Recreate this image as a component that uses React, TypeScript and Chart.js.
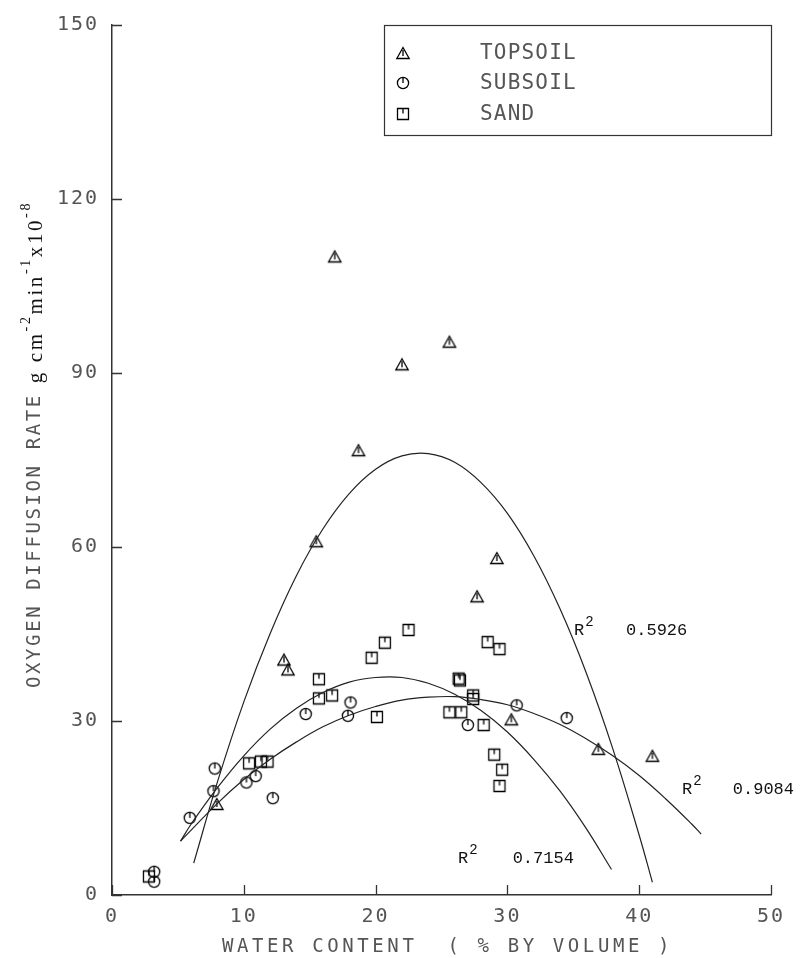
import React, { useEffect, useRef } from 'react';
import { Chart, registerables } from 'chart.js';

Chart.register(...registerables);

// ---- observed data (water content %, oxygen diffusion rate) ----
const topsoilX = [16.9, 25.6, 22.0, 18.7, 15.5, 29.2, 27.7, 13.05, 13.35, 30.3, 36.9, 41.0, 7.95];
const topsoilY = [110.1, 95.4, 91.5, 76.7, 61.0, 58.1, 51.5, 40.6, 38.9, 30.3, 25.2, 24.0, 15.7];

const subsoilX = [3.2, 3.2, 5.9, 7.8, 7.7, 10.2, 10.9, 12.2, 14.7, 17.9, 18.1, 27.0, 30.7, 34.5];
const subsoilY = [4.0, 2.3, 13.3, 21.8, 17.9, 19.4, 20.5, 16.7, 31.2, 30.9, 33.2, 29.3, 32.7, 30.5];

const sandX = [2.8, 10.4, 11.3, 11.8, 15.7, 15.7, 16.7, 19.7, 20.1, 20.7, 22.5, 25.6, 26.5, 26.3, 26.4, 27.4, 27.4, 28.2, 28.5, 29.4, 29.0, 29.6, 29.4];
const sandY = [3.2, 22.7, 23.0, 23.0, 37.2, 33.9, 34.4, 40.9, 30.7, 43.5, 45.7, 31.5, 31.5, 37.3, 37.0, 34.4, 33.8, 29.3, 43.6, 42.4, 24.2, 21.6, 18.8];

// ---- fitted curves ----
const topFitX = [6.2, 8, 10, 12, 14, 16, 18, 20, 22, 24, 26, 28, 30, 32, 34, 36, 38, 40, 41];
const topFitY = [5.5, 19.5, 33.3, 45.1, 55.1, 63.1, 69.2, 73.4, 75.7, 76.1, 74.6, 71.1, 65.8, 58.5, 49.3, 38.2, 25.2, 10.3, 2.2];

const subFitX = [5.2, 8, 10, 12, 14, 16, 18, 20, 22, 24, 26, 28, 30, 32, 34, 36, 38, 40, 42, 44, 44.7];
const subFitY = [9.3, 15.8, 19.9, 23.4, 26.4, 29.0, 31.0, 32.5, 33.6, 34.1, 34.2, 33.7, 32.8, 31.3, 29.4, 26.9, 24.0, 20.6, 16.6, 12.2, 10.5];

const sandFitX = [5.2, 6, 8, 10, 12, 14, 16, 18, 20, 22, 24, 26, 28, 30, 32, 34, 36, 37.9];
const sandFitY = [9.3, 12.2, 18.5, 24.0, 28.6, 32.2, 34.9, 36.7, 37.5, 37.5, 36.5, 34.6, 31.8, 28.1, 23.4, 17.9, 11.4, 4.4];

// ---- labels ----
const legendLabels = ['TOPSOIL', 'SUBSOIL', 'SAND'];
const r2Values = ['0.5926', '0.9084', '0.7154'];
const r2AnchorX = [35.05, 43.25, 26.25];
const r2AnchorY = [44.8, 17.4, 5.6];
const r2ValueX = [39.0, 47.1, 30.4];
const xTitle = 'WATER CONTENT  ( % BY VOLUME )';
const yTitleMain = 'OXYGEN DIFFUSION RATE';

const pts = (xs: number[], ys: number[]) => xs.map((x, i) => ({ x, y: ys[i] }));

function makeSymbol(kind: string): HTMLCanvasElement {
  const c = document.createElement('canvas');
  c.width = 16;
  c.height = 16;
  const g = c.getContext('2d')!;
  g.strokeStyle = '#000';
  g.lineWidth = 1.3;
  g.beginPath();
  if (kind === 'tri') {
    g.moveTo(8, 2.5);
    g.lineTo(1.8, 13.5);
    g.lineTo(14.2, 13.5);
    g.closePath();
    g.moveTo(8, 5);
    g.lineTo(8, 11);
  } else if (kind === 'circ') {
    g.arc(8, 8, 5.6, 0, Math.PI * 2);
    g.moveTo(8, 2.4);
    g.lineTo(8, 8);
  } else {
    g.rect(2.5, 2.5, 11, 11);
    g.moveTo(8, 2.5);
    g.lineTo(8, 7.5);
  }
  g.stroke();
  return c;
}

export default function App() {
  const ref = useRef<HTMLCanvasElement>(null);

  useEffect(() => {
    const canvas = ref.current!;
    const tri = makeSymbol('tri');
    const circ = makeSymbol('circ');
    const sq = makeSymbol('sq');
    const symbols = [tri, circ, sq];
    const plotFont = '"DejaVu Sans Mono", monospace';
    const textGray = '#555';

    const decor = {
      id: 'decor',
      beforeDraw(chart: any) {
        chart.ctx.letterSpacing = '2px';
      },
      beforeDatasetsDraw(chart: any) {
        chart.ctx.letterSpacing = '0px';
      },
      afterDraw(chart: any) {
        const ctx = chart.ctx as CanvasRenderingContext2D & { letterSpacing: string };
        const xs = chart.scales.x;
        const ys = chart.scales.y;
        const ca = chart.chartArea;
        ctx.save();
        // inward tick marks
        ctx.strokeStyle = '#333';
        ctx.lineWidth = 1.3;
        ctx.beginPath();
        xs.ticks.forEach((t: any) => {
          const px = Math.round(xs.getPixelForValue(t.value)) + 0.5;
          ctx.moveTo(px, ca.bottom);
          ctx.lineTo(px, ca.bottom - 10);
        });
        ys.ticks.forEach((t: any) => {
          const py = Math.round(ys.getPixelForValue(t.value)) + 0.5;
          ctx.moveTo(ca.left, py);
          ctx.lineTo(ca.left + 10, py);
        });
        ctx.stroke();

        // legend box
        const lx = ca.right - 387;
        const ly = ca.top;
        ctx.lineWidth = 1.2;
        ctx.strokeStyle = '#333';
        ctx.strokeRect(lx + 0.5, ly + 0.5, 387, 110);
        const rows = [28, 58, 89];
        ctx.font = '21px ' + plotFont;
        ctx.fillStyle = textGray;
        ctx.textBaseline = 'middle';
        ctx.textAlign = 'left';
        ctx.letterSpacing = '1.2px';
        legendLabels.forEach((lab, i) => {
          ctx.drawImage(symbols[i], lx + 19 - 8, ly + rows[i] - 8);
          ctx.fillText(lab, lx + 96, ly + rows[i] + 1);
        });

        // x title
        ctx.font = '19px ' + plotFont;
        ctx.letterSpacing = '3.6px';
        ctx.textAlign = 'center';
        ctx.textBaseline = 'alphabetic';
        ctx.fillText(xTitle, (ca.left + ca.right) / 2 + 6, 952);

        // y title (rotated)
        ctx.save();
        ctx.translate(40, 0);
        ctx.rotate(-Math.PI / 2);
        ctx.textAlign = 'left';
        ctx.font = '19px ' + plotFont;
        ctx.letterSpacing = '2.6px';
        ctx.fillStyle = textGray;
        let pos = -688;
        ctx.fillText(yTitleMain, pos, 0);
        pos += ctx.measureText(yTitleMain).width + 10;
        ctx.letterSpacing = '2.6px';
        ctx.fillStyle = '#111';
        const parts: [string, boolean][] = [
          ['g cm', false], ['-2', true], ['min', false], ['-1', true], ['x10', false], ['-8', true],
        ];
        parts.forEach(([s, sup]) => {
          ctx.font = sup ? '14px "Liberation Serif", serif' : '21px "Liberation Serif", serif';
          ctx.fillText(s, pos, sup ? -10 : 2);
          pos += ctx.measureText(s).width;
        });
        ctx.restore();

        // R^2 annotations
        ctx.letterSpacing = '0px';
        ctx.fillStyle = '#111';
        ctx.textAlign = 'left';
        ctx.textBaseline = 'alphabetic';
        r2Values.forEach((v, i) => {
          const ax = xs.getPixelForValue(r2AnchorX[i]);
          const ay = ys.getPixelForValue(r2AnchorY[i]);
          ctx.font = '17px "Liberation Mono", monospace';
          ctx.fillText('R', ax, ay);
          const rw = ctx.measureText('R').width;
          ctx.font = '14px "Liberation Mono", monospace';
          ctx.fillText('2', ax + rw + 1, ay - 9);
          ctx.font = '17px "Liberation Mono", monospace';
          ctx.fillText(v, xs.getPixelForValue(r2ValueX[i]), ay);
        });
        ctx.restore();
      },
    };

    const curve = (xsArr: number[], ysArr: number[], label: string) => ({
      label,
      data: pts(xsArr, ysArr),
      showLine: true,
      borderColor: '#222',
      borderWidth: 1.2,
      pointRadius: 0,
      tension: 0.4,
      fill: false,
    });

    const chart = new Chart(canvas, {
      type: 'scatter',
      data: {
        datasets: [
          curve(topFitX, topFitY, 'Topsoil fit'),
          curve(subFitX, subFitY, 'Subsoil fit'),
          curve(sandFitX, sandFitY, 'Sand fit'),
          { label: 'TOPSOIL', data: pts(topsoilX, topsoilY), pointStyle: tri, pointRadius: 6 },
          { label: 'SUBSOIL', data: pts(subsoilX, subsoilY), pointStyle: circ, pointRadius: 6 },
          { label: 'SAND', data: pts(sandX, sandY), pointStyle: sq, pointRadius: 6 },
        ],
      },
      options: {
        animation: false,
        responsive: false,
        layout: { padding: { top: 15, right: 32, left: 0, bottom: 0 } },
        plugins: { legend: { display: false }, tooltip: { enabled: false } },
        scales: {
          x: {
            type: 'linear',
            min: 0,
            max: 50,
            afterFit: (s: any) => { s.height = 63; },
            grid: { display: false, drawTicks: false },
            border: { display: true, color: '#333', width: 1.5 },
            ticks: { stepSize: 10, color: textGray, padding: 10, font: { family: plotFont, size: 20 } },
          },
          y: {
            type: 'linear',
            min: 0,
            max: 150,
            afterFit: (s: any) => { s.width = 112; },
            grid: { display: false, drawTicks: false },
            border: { display: true, color: '#333', width: 1.5 },
            ticks: { stepSize: 30, color: textGray, padding: 13, font: { family: plotFont, size: 20 } },
          },
        },
      },
      plugins: [decor],
    });
    return () => chart.destroy();
  }, []);

  return (
    <div style={{ position: 'absolute', left: 0, top: 0, width: 803, height: 958, background: '#fff' }}>
      <canvas ref={ref} width={803} height={958} style={{ display: 'block' }} />
    </div>
  );
}
